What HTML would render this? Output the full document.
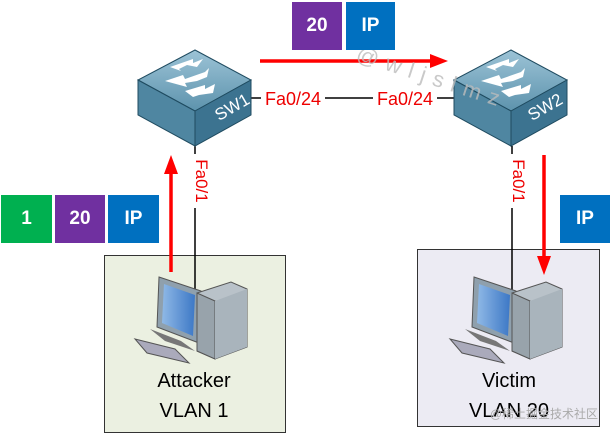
<!DOCTYPE html>
<html><head><meta charset="utf-8"><style>
body{margin:0;width:613px;height:435px;background:#fff;overflow:hidden;font-family:"Liberation Sans","DejaVu Sans",sans-serif}
.b{position:absolute;color:#fff;font-weight:bold;font-size:19px;display:flex;align-items:center;justify-content:center}
</style></head><body>
<svg width="613" height="435" style="position:absolute;left:0;top:0" xmlns="http://www.w3.org/2000/svg">
<defs>
<linearGradient id="tp" x1="0" y1="0" x2="0" y2="1"><stop offset="0" stop-color="#9cc3d6"/><stop offset="1" stop-color="#5d93ad"/></linearGradient>
<linearGradient id="sc" x1="0" y1="0" x2="1" y2="0"><stop offset="0" stop-color="#8fb9e6"/><stop offset="1" stop-color="#3d78c6"/></linearGradient>
<g id="sw">
<polygon points="0,-47 56,-17 0,14 -57,-17" fill="url(#tp)" stroke="#1f4b60" stroke-width="1"/>
<polygon points="-57,-17 0,14 0,49 -57,18" fill="#4f86a1" stroke="#1f4b60" stroke-width="1"/>
<polygon points="0,14 56,-17 56,18 0,49" fill="#3c7390" stroke="#1f4b60" stroke-width="1"/>
<g fill="#fff">
<polygon points="-25,-30 -2,-38 -2,-34 8,-38 2,-30 -8,-32 -16,-28 -14,-26"/>
<polygon points="-30,-16 -12,-22 -10,-18 10,-25 14,-29 12,-20 2,-16 -10,-14 -8,-10"/>
<polygon points="-10,-6 10,-12 10,-8 20,-13 18,-4 4,-2 -2,0"/>
</g>
</g>
<g id="pc">
<polygon points="24,0 66,14 64,66 22,50" fill="#8fa0ad" stroke="#555" stroke-width="1"/>
<polygon points="29,7 60,18 58,59 27,46" fill="url(#sc)"/>
<polygon points="15,52 46,64 60,74 30,64" fill="#777" />
<polygon points="0,62 40,72 54,86 12,76" fill="#aab" stroke="#555" stroke-width="1"/>
<polygon points="62,16 96,5 112,12 112,70 80,82 62,74" fill="#b9c2c9" stroke="#555" stroke-width="1"/>
<polygon points="62,16 80,24 80,82 62,74" fill="#98a3ab" stroke="#555" stroke-width="1"/>
<polygon points="80,24 112,12 112,70 80,82" fill="#a9b4bc"/>
</g>
</defs>
<rect x="104.5" y="255.5" width="181" height="177" fill="#ebf0e1" stroke="#333"/>
<rect x="417.5" y="249.5" width="182" height="177" fill="#ecebf3" stroke="#333"/>
<line x1="250" y1="98" x2="455" y2="98" stroke="#000" stroke-width="1.5"/>
<line x1="195" y1="146" x2="195" y2="295" stroke="#000" stroke-width="1.5"/>
<line x1="512" y1="146" x2="512" y2="290" stroke="#000" stroke-width="1.5"/>
<use href="#sw" x="195" y="97"/>
<use href="#sw" x="511" y="97"/>
<text x="235" y="112" transform="rotate(-30 235 112)" font-size="17" fill="#fff" text-anchor="middle" font-family="Liberation Sans">SW1</text>
<text x="548" y="112" transform="rotate(-30 548 112)" font-size="17" fill="#fff" text-anchor="middle" font-family="Liberation Sans">SW2</text>
<rect x="261" y="89" width="64" height="20" fill="#fff"/>
<rect x="373" y="89" width="64" height="20" fill="#fff"/>
<text x="293" y="105" font-size="18" fill="#e00" text-anchor="middle">Fa0/24</text>
<text x="405" y="105" font-size="18" fill="#e00" text-anchor="middle">Fa0/24</text>
<rect x="187" y="154" width="16" height="54" fill="#fff"/>
<rect x="504" y="154" width="16" height="54" fill="#fff"/>
<text transform="translate(195,181) rotate(90)" font-size="17" fill="#e00" text-anchor="middle" dy="-1">Fa0/1</text>
<text transform="translate(512,181) rotate(90)" font-size="17" fill="#e00" text-anchor="middle" dy="-1">Fa0/1</text>
<line x1="260" y1="61" x2="432" y2="61" stroke="#f00" stroke-width="3.5"/>
<polygon points="448,61 430,54 430,68" fill="#f00"/>
<line x1="171" y1="272" x2="171" y2="172" stroke="#f00" stroke-width="3.5"/>
<polygon points="171,155 164,174 178,174" fill="#f00"/>
<line x1="544" y1="155" x2="544" y2="258" stroke="#f00" stroke-width="3.5"/>
<polygon points="544,275 537,256 551,256" fill="#f00"/>
<use href="#pc" x="135" y="277"/>
<use href="#pc" x="450" y="277"/>
<text x="194" y="387" font-size="20" fill="#000" text-anchor="middle">Attacker</text>
<text x="194" y="417" font-size="20" fill="#000" text-anchor="middle">VLAN 1</text>
<text x="509" y="387" font-size="20" fill="#000" text-anchor="middle">Victim</text>
<text x="509" y="417" font-size="20" fill="#000" text-anchor="middle">VLAN 20</text>
<text x="355" y="60" transform="rotate(18 355 60)" font-size="22" fill="#bbb" fill-opacity="0.8" letter-spacing="8">@wljslmz</text>
<text x="598" y="418" font-size="12" fill="#aaa" text-anchor="end" font-family="Liberation Sans,Noto Sans CJK SC,sans-serif">@稀土掘金技术社区</text>
</svg>
<div class="b" style="left:292px;top:2px;width:50px;height:48px;background:#7030a0">20</div>
<div class="b" style="left:346px;top:2px;width:49px;height:48px;background:#0070c0">IP</div>
<div class="b" style="left:1px;top:195px;width:51px;height:48px;background:#00b050">1</div>
<div class="b" style="left:55px;top:195px;width:50px;height:48px;background:#7030a0">20</div>
<div class="b" style="left:108px;top:195px;width:51px;height:48px;background:#0070c0">IP</div>
<div class="b" style="left:560px;top:195px;width:50px;height:48px;background:#0070c0">IP</div>
</body></html>
